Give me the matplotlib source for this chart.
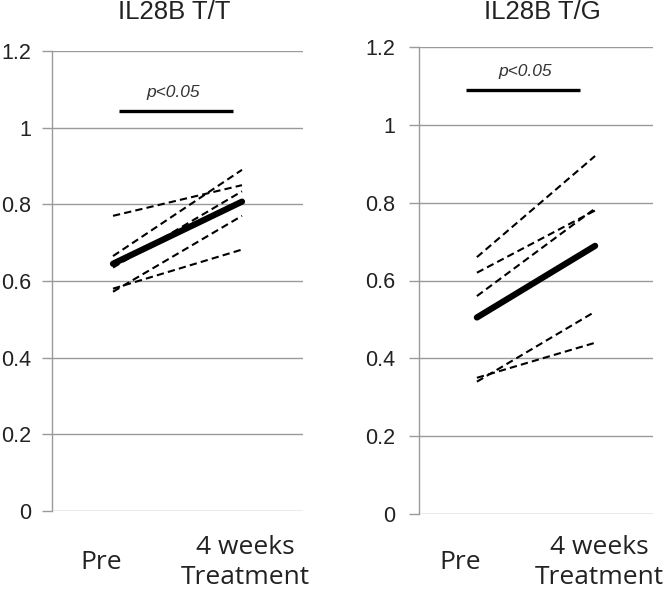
import matplotlib
matplotlib.use("Agg")
import matplotlib.pyplot as plt

# Data
titles = ["IL28B T/T", "IL28B T/G"]
time_labels = ["Pre", "4 weeks\nTreatment"]
tt_pre = [0.77, 0.665, 0.635, 0.572, 0.58]
tt_post = [0.85, 0.89, 0.834, 0.77, 0.682]
tt_mean = [0.645, 0.807]
tg_pre = [0.66, 0.62, 0.56, 0.34, 0.35]
tg_post = [0.92, 0.78, 0.785, 0.52, 0.44]
tg_mean = [0.505, 0.689]
p_text = "p<0.05"
p_level = [1.043, 1.09]
yticks = [0, 0.2, 0.4, 0.6, 0.8, 1.0, 1.2]
ytick_labels = ["0", "0.2", "0.4", "0.6", "0.8", "1", "1.2"]

fig = plt.figure(figsize=(6.66, 5.89), dpi=100)
W, H = 666, 589

def make_ax(x0, x1, y0, y1):
    return fig.add_axes([x0 / W, (H - y0) / H, (x1 - x0) / W, (y0 - y1) / H])

ax1 = make_ax(52, 303, 511, 51)
ax2 = make_ax(419, 653, 514, 47)

panels = [
    (ax1, tt_pre, tt_post, tt_mean, p_level[0], (-0.473, 1.473), [-0.093, 1.027], (0.047, 0.93), 37, 174.5, -0.02, 8),
    (ax2, tg_pre, tg_post, tg_mean, p_level[1], (-0.49, 1.49), [-0.144, 1.035], (-0.093, 0.873), 35, 542.5, 0.02, 10),
]

gray = "#9a9a9a"
for i, (ax, pre, post, mean, pl, xl, labx, bar, xpad, tx, pdx, ypad) in enumerate(panels):
    ax.set_xlim(*xl)
    ax.set_ylim(0, 1.2)
    for s in ["top", "right", "bottom"]:
        ax.spines[s].set_visible(False)
    ax.spines["left"].set_color(gray)
    ax.spines["left"].set_linewidth(1.0)
    ax.set_yticks(yticks)
    ax.set_yticklabels(ytick_labels, fontfamily="Liberation Sans", fontsize=15.5, color="#222222")
    ax.tick_params(axis="y", length=7, width=1.0, color=gray, pad=ypad)
    ax.yaxis.grid(True, color=gray, linewidth=1.0)
    ax.set_axisbelow(True)
    ax.set_xticks(labx)
    ax.set_xticklabels(time_labels, fontfamily="Open Sans", fontsize=19, color="#222222",
                       va="center", linespacing=1.3)
    ax.tick_params(axis="x", length=0, pad=xpad)
    for a, b in zip(pre, post):
        ax.plot([0, 1], [a, b], color="black", linewidth=1.5, linestyle=(0, (3.5, 2.0)))
    ax.plot([0, 1], mean, color="black", linewidth=4.5, solid_capstyle="round")
    ax.plot(list(bar), [pl, pl], color="black", linewidth=2.4, solid_capstyle="butt")
    ax.text(sum(bar) / 2 + pdx, pl + 0.036, p_text, ha="center", va="baseline", style="italic",
            fontfamily="Liberation Sans", fontsize=12.5, color="#333333")
    fig.text(tx / W, (H - 19) / H, titles[i], ha="center", va="baseline",
             fontfamily="Liberation Sans", fontsize=18.5, color="#222222")

fig.savefig("out.png", dpi=100)
